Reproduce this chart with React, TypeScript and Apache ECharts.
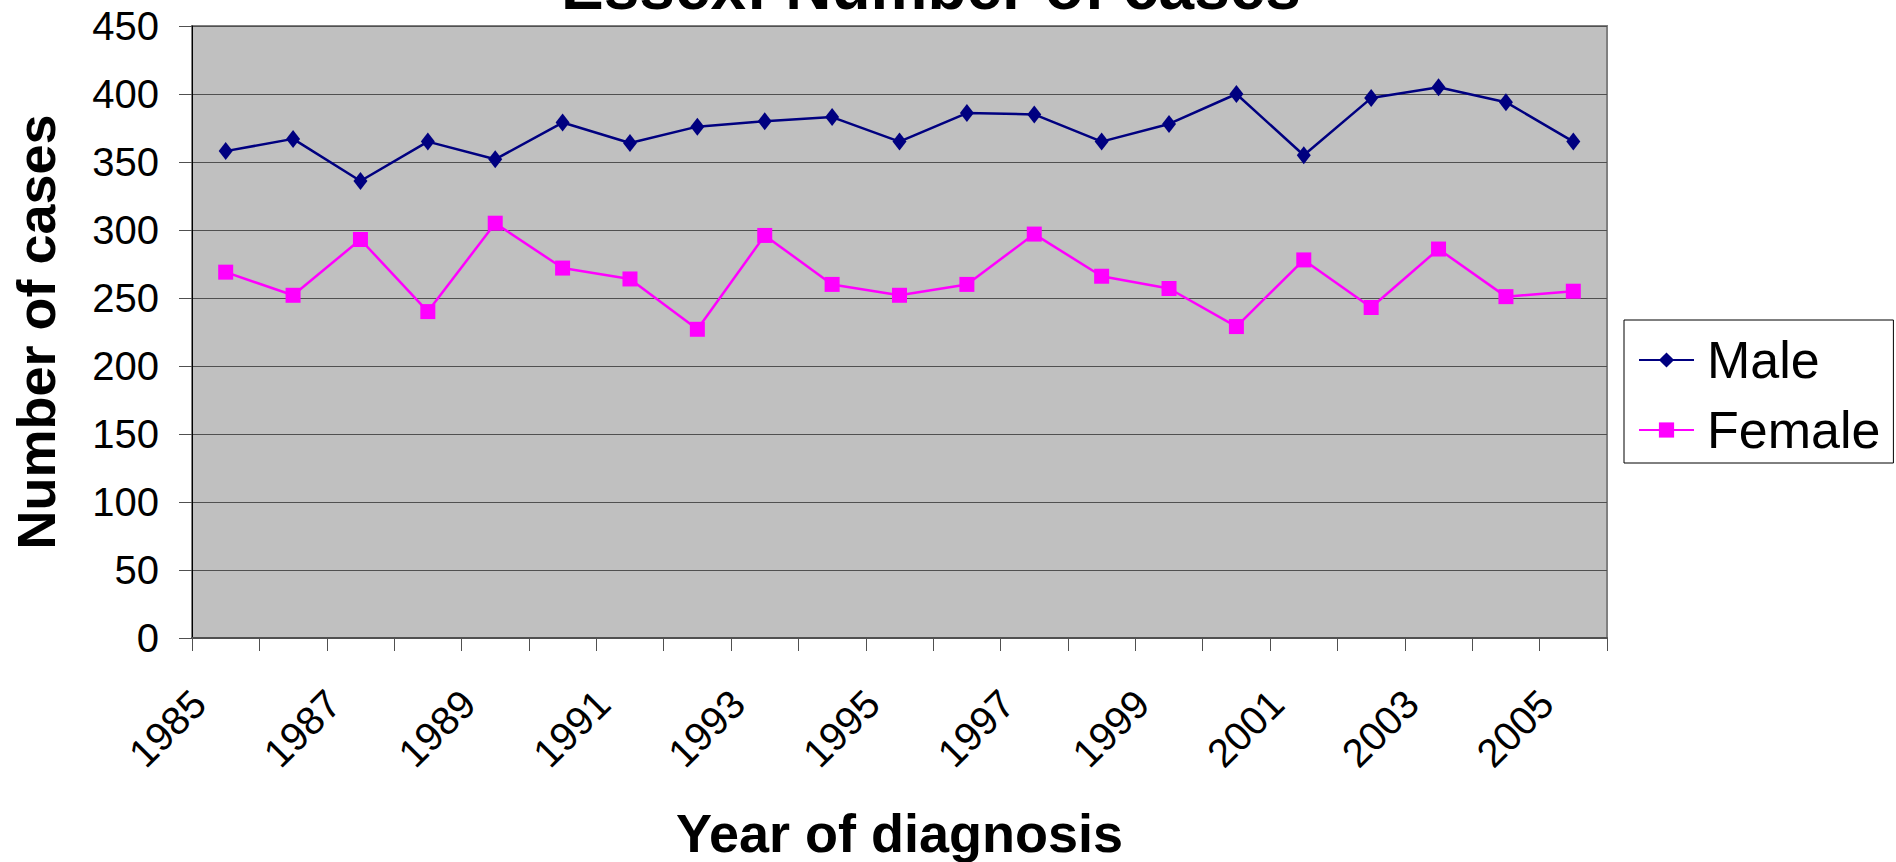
import React, { useEffect, useRef } from "react";
import * as echarts from "echarts";

const years = [
  "1985", "1986", "1987", "1988", "1989", "1990", "1991", "1992", "1993", "1994",
  "1995", "1996", "1997", "1998", "1999", "2000", "2001", "2002", "2003", "2004", "2005",
];
const male = [358, 367, 336, 365, 352, 379, 364, 376, 380, 383, 365, 386, 385, 365, 378, 400, 355, 397, 405, 394, 365];
const female = [269, 252, 293, 240, 305, 272, 264, 227, 296, 260, 252, 260, 297, 266, 257, 229, 278, 243, 286, 251, 255];
const yTicks = { min: 0, max: 450, interval: 50 };

const FONT = '"Liberation Sans", Arial, sans-serif';

export default function App() {
  const ref = useRef<HTMLDivElement>(null);
  useEffect(() => {
    document.body.style.margin = "0";
    if (!ref.current) return;
    const chart = echarts.init(ref.current, null, { renderer: "svg" });
    chart.setOption({
      animation: false,
      backgroundColor: "#ffffff",
      textStyle: { fontFamily: FONT },
      graphic: [
        {
          type: "text",
          x: 931,
          y: -13,
          style: {
            text: "Essex: Number of cases",
            font: `bold 64px ${FONT}`,
            fill: "#000",
            textAlign: "center",
            textVerticalAlign: "middle",
          },
        },
      ],
      legend: {
        orient: "vertical",
        left: 1624,
        top: 320,
        padding: [14, 13, 7, 14],
        itemWidth: 55,
        itemHeight: 19,
        itemGap: 18,
        backgroundColor: "#ffffff",
        borderColor: "#000000",
        borderWidth: 1,
        borderRadius: 0,
        textStyle: { fontSize: 52, color: "#000", fontFamily: FONT, padding: [0, 0, 0, 8] },
        data: ["Male", "Female"],
      },
      grid: {
        left: 192,
        top: 26,
        width: 1415,
        height: 612,
        show: true,
        backgroundColor: "#C0C0C0",
        borderColor: "#808080",
        borderWidth: 2,
        containLabel: false,
        outerBoundsMode: "none",
      },
      xAxis: {
        type: "category",
        data: years,
        boundaryGap: true,
        name: "Year of diagnosis",
        nameLocation: "middle",
        nameGap: 168,
        nameMoveOverlap: false,
        nameTextStyle: { fontSize: 54, fontWeight: "bold", color: "#000", fontFamily: FONT },
        axisLine: { show: true, lineStyle: { color: "#505050", width: 2 } },
        axisTick: { show: true, length: 13, interval: 0, lineStyle: { color: "#505050", width: 1 } },
        axisLabel: {
          interval: 1,
          rotate: 45,
          margin: 32,
          padding: [0, 38, 0, 0],
          fontSize: 40,
          color: "#000",
          fontFamily: FONT,
        },
        splitLine: { show: false },
      },
      yAxis: {
        type: "value",
        min: yTicks.min,
        max: yTicks.max,
        interval: yTicks.interval,
        name: "Number of cases",
        nameLocation: "middle",
        nameGap: 129,
        nameMoveOverlap: false,
        nameTextStyle: { fontSize: 54, fontWeight: "bold", color: "#000", fontFamily: FONT },
        axisLine: { show: true, lineStyle: { color: "#000", width: 1 } },
        axisTick: { show: true, length: 13, lineStyle: { color: "#505050", width: 1 } },
        axisLabel: { margin: 33, fontSize: 40, color: "#000", fontFamily: FONT },
        splitLine: { show: true, lineStyle: { color: "#505050", width: 1 } },
      },
      series: [
        {
          name: "Male",
          type: "line",
          data: male,
          symbol: "diamond",
          symbolSize: [14, 18],
          lineStyle: { color: "#000080", width: 2.5 },
          itemStyle: { color: "#000080" },
        },
        {
          name: "Female",
          type: "line",
          data: female,
          symbol: "rect",
          symbolSize: 15,
          lineStyle: { color: "#FF00FF", width: 2.5 },
          itemStyle: { color: "#FF00FF" },
        },
      ],
    });
    return () => chart.dispose();
  }, []);
  return (
    <div
      ref={ref}
      style={{ position: "fixed", left: 0, top: 0, width: 1896, height: 862 }}
    />
  );
}
